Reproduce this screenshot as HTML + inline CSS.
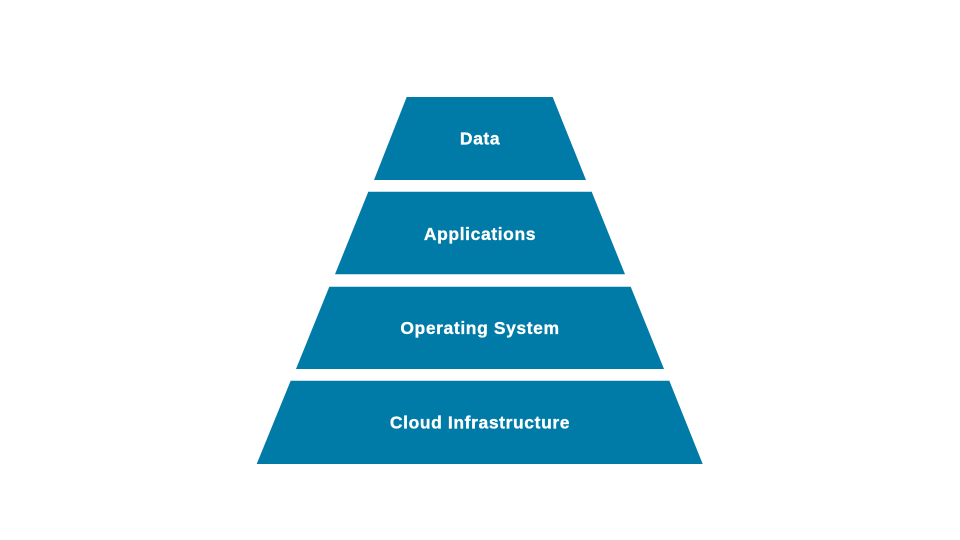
<!DOCTYPE html>
<html>
<head>
<meta charset="utf-8">
<style>
html,body{margin:0;padding:0;background:#fff;}
svg{display:block;}
text{font-family:"Liberation Sans",sans-serif;font-weight:bold;fill:#fff;font-size:17.5px;letter-spacing:0.6px;stroke:#fff;stroke-width:0.3px;}
</style>
</head>
<body>
<svg width="960" height="540" viewBox="0 0 960 540" xmlns="http://www.w3.org/2000/svg">
<rect width="960" height="540" fill="#fff"/>
<g fill="#007ba7">
<polygon points="406.7,97 552.7,97 586,180 374,180"/>
<polygon points="368.3,191.7 591.7,191.7 625,274.3 335,274.3"/>
<polygon points="329.3,286.7 630.7,286.7 664,369 296,369"/>
<polygon points="290.7,380.7 669.3,380.7 702.7,464 256.7,464"/>
</g>
<text x="480" y="144.5" text-anchor="middle">Data</text>
<text x="480" y="240" text-anchor="middle">Applications</text>
<text x="480" y="334" text-anchor="middle">Operating System</text>
<text x="480" y="428.5" text-anchor="middle">Cloud Infrastructure</text>
</svg>
</body>
</html>
